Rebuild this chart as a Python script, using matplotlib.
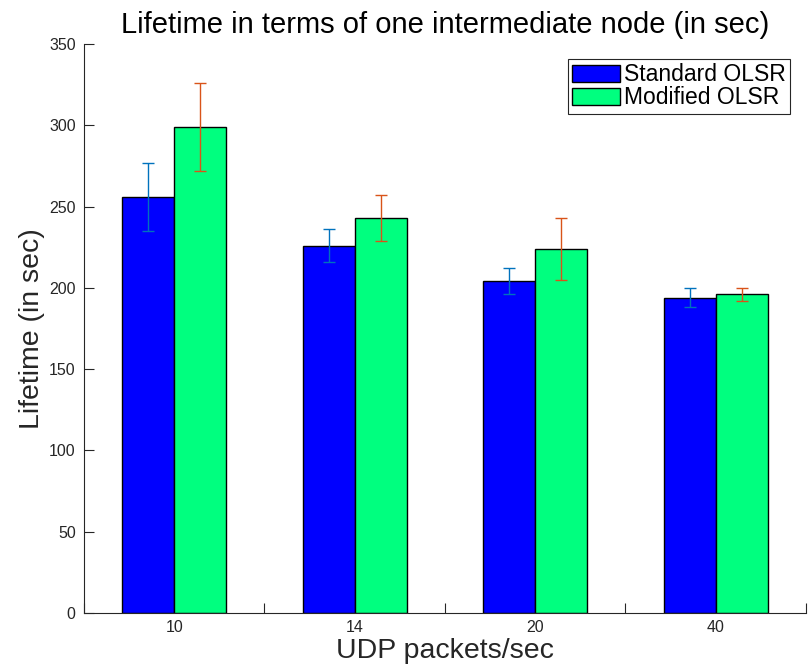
import matplotlib
matplotlib.use("Agg")
import matplotlib.pyplot as plt
import numpy as np

plt.rcParams['font.family'] = ['Liberation Sans', 'DejaVu Sans']

categories = ["10", "14", "20", "40"]
standard = [256, 226, 204, 194]
standard_err = [21, 10, 8, 6]
modified = [299, 243, 224, 196]
modified_err = [27, 14, 19, 4]

fig = plt.figure(figsize=(8.12, 6.7), dpi=100)
ax = fig.add_axes([84/812, 57/670, 722/812, 569/670])

x = np.arange(1, len(categories) + 1)
w = 0.287

ax.bar(x - w/2, standard, w, color="#0000ff", edgecolor="black", linewidth=1.0,
       label="Standard OLSR", zorder=2)
ax.bar(x + w/2, modified, w, color="#00ff7f", edgecolor="black", linewidth=1.0,
       label="Modified OLSR", zorder=2)
ax.errorbar(x - w/2, standard, yerr=standard_err, fmt="none", ecolor="#0072bd",
            elinewidth=1.0, capsize=4, capthick=1.0, zorder=3)
ax.errorbar(x + w/2, modified, yerr=modified_err, fmt="none", ecolor="#d95319",
            elinewidth=1.0, capsize=4, capthick=1.0, zorder=3)

ax.set_xlim(0.5, 4.5)
ax.set_ylim(0, 350)
ax.set_xticks(x)
ax.set_xticklabels(categories)
ax.set_xticks(np.arange(0.5, len(categories) + 1, 1.0), minor=True)
ax.set_yticks(np.arange(0, 351, 50))
ax.tick_params(which="both", direction="in", length=7, width=0.8,
               labelsize=11.5, colors="#262626")
ax.tick_params(axis="x", pad=5)
ax.tick_params(axis="y", pad=6)
for s in ["top", "right"]:
    ax.spines[s].set_visible(False)
for s in ["left", "bottom"]:
    ax.spines[s].set_color("#262626")
    ax.spines[s].set_linewidth(0.8)

ax.set_title("Lifetime in terms of one intermediate node (in sec)", fontsize=21, pad=8)
ax.set_xlabel("UDP packets/sec", fontsize=20.5, labelpad=2, color="#262626")
ax.set_ylabel("Lifetime (in sec)", fontsize=20.5, labelpad=3, color="#262626")

leg = ax.legend(loc="upper right", bbox_to_anchor=(0.978, 0.974), fontsize=16.5,
                fancybox=False, framealpha=1, edgecolor="#262626",
                handlelength=2.1, handleheight=0.74, handletextpad=0.15,
                borderpad=0.2, labelspacing=0.0, borderaxespad=0)
leg.get_frame().set_linewidth(0.8)

fig.savefig("out.png", dpi=100)
